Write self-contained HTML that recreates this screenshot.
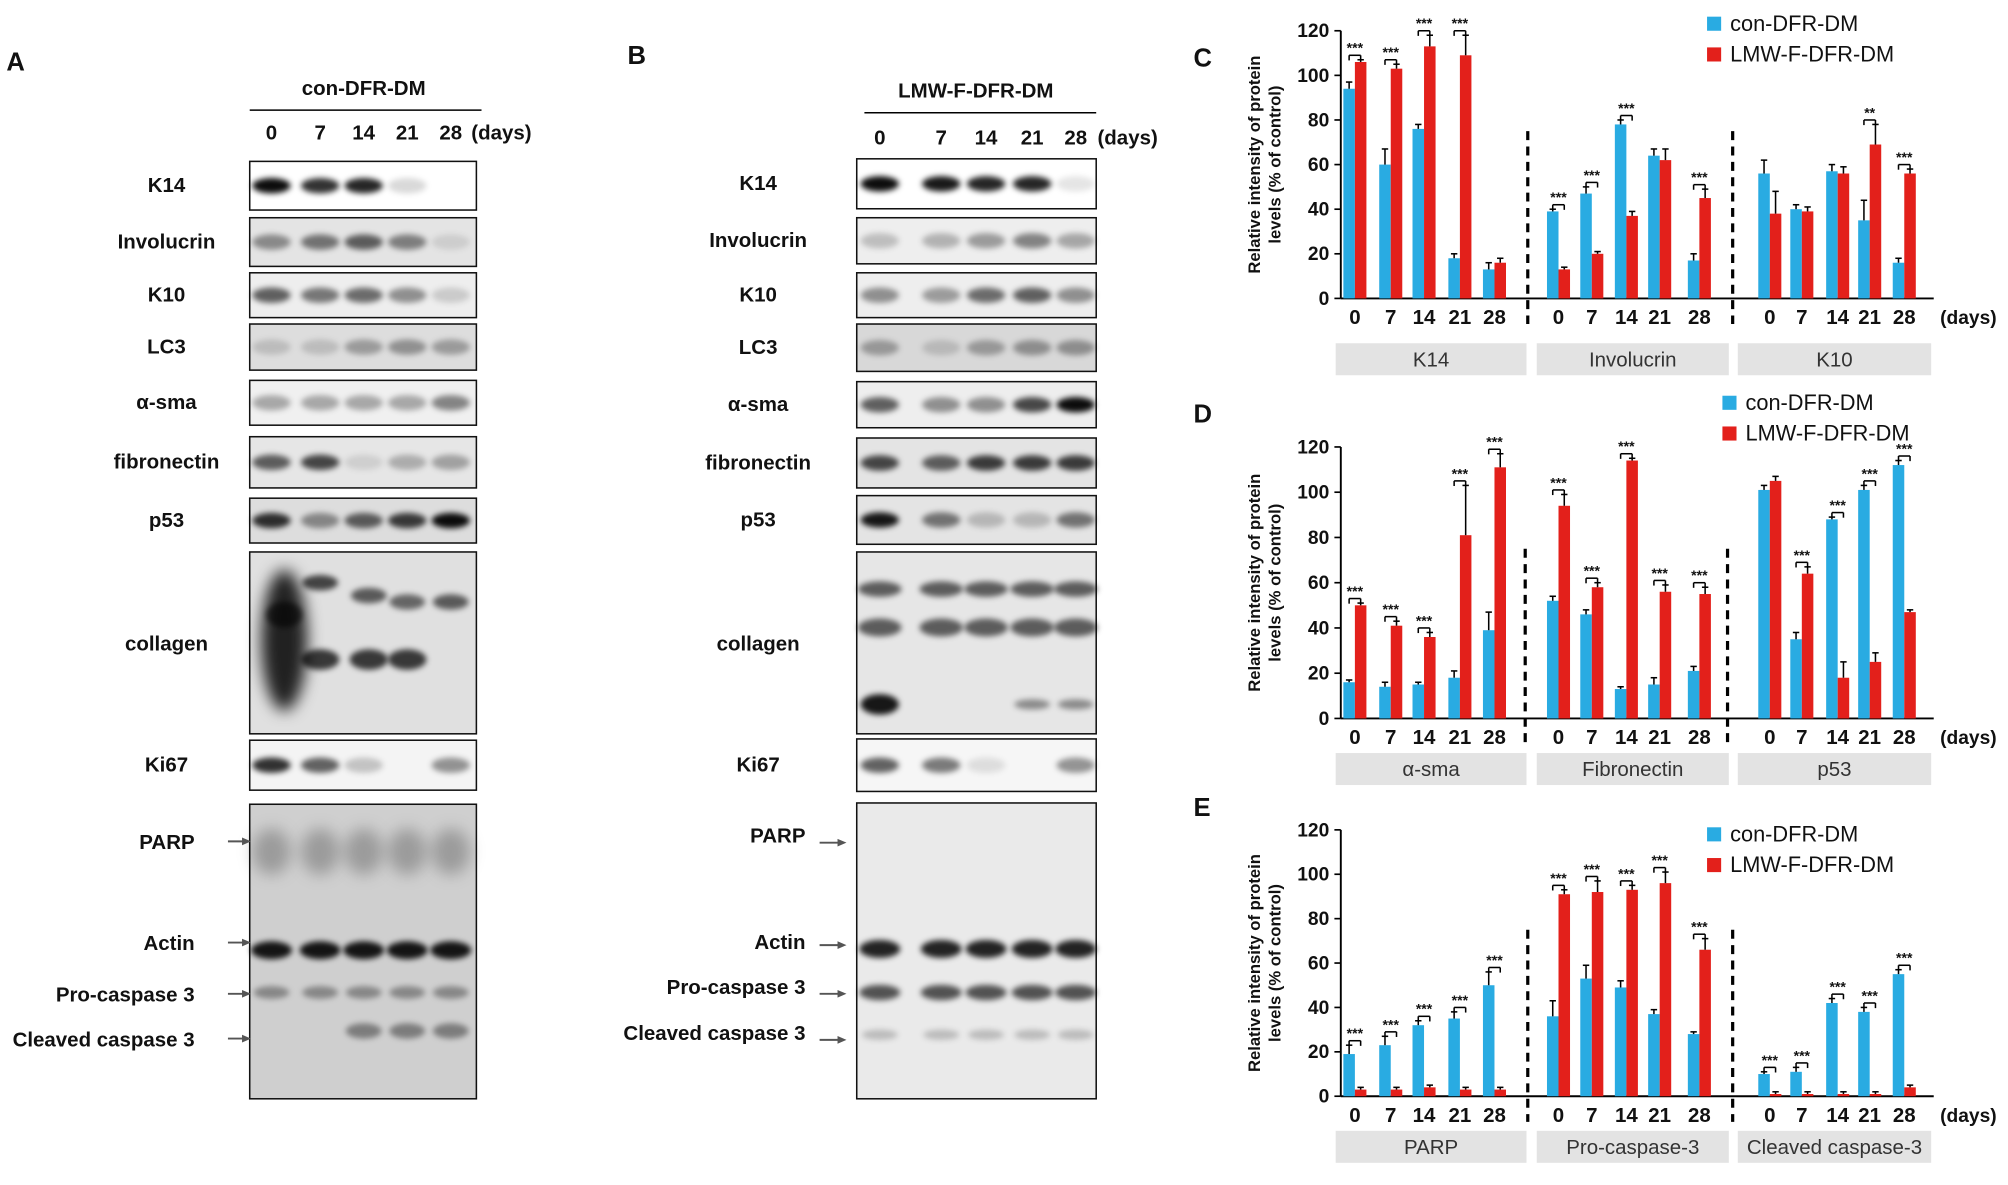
<!DOCTYPE html>
<html><head><meta charset="utf-8"><style>
html,body{margin:0;padding:0;background:#fff;}
svg{display:block;}
text{font-family:"Liberation Sans",Arial,sans-serif;}
</style></head><body>
<svg id="s" width="2008" height="1185" viewBox="0 0 1568 925.3" xmlns="http://www.w3.org/2000/svg">
<defs>
<filter id="bl" x="-50%" y="-50%" width="200%" height="200%"><feGaussianBlur stdDeviation="2.2"/></filter>
<filter id="bl2" x="-50%" y="-50%" width="200%" height="200%"><feGaussianBlur stdDeviation="6"/></filter>
</defs>
<g id="g"></g>
</svg>
<script>
var g=document.getElementById('g'),h='';
function T(x,y,t,o){o=o||{};h+='<text x="'+x+'" y="'+y+'" font-size="'+(o.s||16)+'" font-weight="'+(o.w||'bold')+'" text-anchor="'+(o.a||'start')+'" fill="'+(o.c||'#111')+'"'+(o.tr?' transform="'+o.tr+'"':'')+'>'+t+'</text>';}
function R(x,y,w,hh,f,st){h+='<rect x="'+x+'" y="'+y+'" width="'+w+'" height="'+hh+'" fill="'+f+'"'+(st?' stroke="'+st+'" stroke-width="1.2"':'')+'/>';}
function L(x1,y1,x2,y2,c,w,d){h+='<line x1="'+x1+'" y1="'+y1+'" x2="'+x2+'" y2="'+y2+'" stroke="'+(c||'#000')+'" stroke-width="'+(w||1.2)+'"'+(d?' stroke-dasharray="'+d+'"':'')+'/>';}
function E(cx,cy,rx,ry,op,f){h+='<ellipse cx="'+cx+'" cy="'+cy+'" rx="'+rx+'" ry="'+ry+'" fill="#000" fill-opacity="'+op+'" filter="url(#'+(f||'bl')+')"/>';}
// Panel letters
T(5,55,'A',{s:20});T(490,50,'B',{s:20});T(932,52,'C',{s:20});T(932,330,'D',{s:20});T(932,637,'E',{s:20});
// Blot A
T(284,74,'con-DFR-DM',{s:16,a:'middle'});L(195,86,376,86);
var la=[212,250,284,318,352],lb=[687,735,770,806,840];
['0','7','14','21','28'].forEach(function(t,i){T(la[i],109,t,{a:'middle'});T(lb[i],113,t,{a:'middle'});});
T(368,109,'(days)');T(857,113,'(days)');
T(762,76,'LMW-F-DFR-DM',{s:16,a:'middle'});L(675,88,856,88);
var rowsA=[['K14',126,164,[.95,.8,.85,.15,0],'#fff'],['Involucrin',170,208,[.4,.5,.6,.45,.1],'#e4e4e4'],['K10',213,248,[.6,.5,.55,.4,.15],'#eee'],['LC3',253,289,[.15,.15,.3,.35,.3],'#ddd'],['α-sma',297,332,[.3,.3,.3,.3,.45],'#f0f0f0'],['fibronectin',341,381,[.6,.7,.1,.25,.3],'#e6e6e6'],['p53',389,424,[.8,.4,.6,.75,.95],'#ddd'],['collagen',431,573,null,'#e0e0e0'],['Ki67',578,617,[.8,.6,.2,0,.4],'#f4f4f4'],['',628,858,null,'#cfcfcf']];
var rowsB=[['K14',124,163,[.95,.9,.85,.85,.1],'#fff'],['Involucrin',170,206,[.2,.25,.35,.45,.3],'#eee'],['K10',213,248,[.4,.35,.55,.6,.4],'#eee'],['LC3',253,290,[.3,.15,.3,.35,.35],'#d8d8d8'],['α-sma',298,334,[.6,.4,.4,.7,.95],'#eee'],['fibronectin',342,381,[.7,.6,.75,.75,.75],'#e4e4e4'],['p53',387,425,[.9,.5,.2,.2,.5],'#e4e4e4'],['collagen',431,573,null,'#e6e6e6'],['Ki67',577,618,[.6,.5,.1,0,.4],'#f6f6f6'],['',627,858,null,'#eaeaea']];
function blot(rows,x0,x1,lanes,lx){rows.forEach(function(r){R(x0,r[1],x1-x0,r[2]-r[1],r[4],'#111');
 var cy=(r[1]+r[2])/2; if(r[0])T(lx,cy+(r[0]=='collagen'?6:5),r[0],{a:'middle'});
 if(r[3])r[3].forEach(function(o,i){if(o>0)E(lanes[i],cy,15,6,o);});});}
blot(rowsA,195,372,la,130);blot(rowsB,669,856,lb,592);
// collagen A
E(222,500,18,55,.85,'bl2');[[250,455,.7],[288,465,.6],[318,470,.55],[352,470,.6]].forEach(function(p){E(p[0],p[1],14,6,p[2]);});
[250,288,318].forEach(function(x){E(x,515,15,8,.75);});E(222,480,14,10,.6);
// collagen B
lb.forEach(function(x,i){E(x,460,17,6,.6);E(x,490,17,7,.6);});E(687,550,15,8,.9);E(806,550,14,4,.4);E(840,550,14,4,.4);
// big A
la.forEach(function(x,i){E(x,742,16,7,.9);E(x,775,14,5,.35);E(x,665,15,18,.25,'bl2');if(i>=2)E(x,805,14,6,.4);});
lb.forEach(function(x){E(x,741,16,7,.85);E(x,775,16,6,.65);E(x,808,14,4,.2);});
[['PARP',657],['Actin',736],['Pro-caspase 3',776],['Cleaved caspase 3',811]].forEach(function(p){
 T(152,p[1]+6,p[0],{a:'end'});L(178,p[1],192,p[1],'#555',1.5);h+='<polygon points="196,'+p[1]+' 189,'+(p[1]-3)+' 189,'+(p[1]+3)+'" fill="#555"/>';});
[['PARP',658],['Actin',738],['Pro-caspase 3',776],['Cleaved caspase 3',812]].forEach(function(p){
 T(629,p[1]+(p[0]=='Actin'?3:0),p[0],{a:'end'});L(640,p[1],657,p[1],'#555',1.5);h+='<polygon points="661,'+p[1]+' 654,'+(p[1]-3)+' 654,'+(p[1]+3)+'" fill="#555"/>';});
// charts
var B='#29abe2',Rd='#e3201b';
var xs=[[1058,1086,1112,1140,1167],[1217,1243,1270,1296,1327],[1382,1407,1435,1460,1487]];
function chart(y0,y120,data,labels,ly,leg,seps,star){
 var k=(y0-y120)/120;
 L(1047,y120,1047,y0,'#000',1.5);L(1047,y0,1510,y0,'#000',1.5);
 for(var v=0;v<=120;v+=20){var y=y0-v*k;L(1042,y,1047,y,'#000',1.3);T(1038,y+5,v,{a:'end',s:15});}
 T(984,(y0+y120)/2,'Relative intensity of protein',{s:13,a:'middle',tr:'rotate(-90 984 '+(y0+y120)/2+')'});
 T(1000,(y0+y120)/2,'levels (% of control)',{s:13,a:'middle',tr:'rotate(-90 1000 '+(y0+y120)/2+')'});
 seps.forEach(function(x){L(x,y0-75*k,x,y0+20,'#000',2.5,'7,5');});
 data.forEach(function(gr,gi){gr[0].forEach(function(b,i){var x=xs[gi][i],r=gr[1][i];
  R(x-9,y0-b*k,9,b*k,B);R(x,y0-r*k,9,r*k,Rd);
  var eb=gr[2]?gr[2][i]:3,er=gr[3]?gr[3][i]:3;
  L(x-4.5,y0-b*k,x-4.5,y0-(b+eb)*k);L(x-7,y0-(b+eb)*k,x-2,y0-(b+eb)*k);
  L(x+4.5,y0-r*k,x+4.5,y0-(r+er)*k);L(x+2,y0-(r+er)*k,x+7,y0-(r+er)*k);
  var s=star[gi][i];if(s){var top=y0-(Math.max(b+eb,r+er)+2)*k;L(x-4.5,top,x+4.5,top);L(x-4.5,top,x-4.5,top+4);L(x+4.5,top,x+4.5,top+4);T(x,top-2,s,{a:'middle',s:11});}
  T(x,y0+20,['0','7','14','21','28'][i],{a:'middle',s:16});});});
 T(1515,y0+20,'(days)',{s:15,w:'bold'});
 [[1043,1192],[1200,1350],[1357,1508]].forEach(function(p,i){R(p[0],ly,p[1]-p[0],25,'#e3e3e3');T((p[0]+p[1])/2,ly+18,labels[i],{a:'middle',s:16,w:'normal',c:'#333'});});
 R(leg[0],leg[1]-11,11,11,B);T(leg[0]+18,leg[1],'con-DFR-DM',{s:17,w:'normal'});
 R(leg[0],leg[1]+13,11,11,Rd);T(leg[0]+18,leg[1]+24,'LMW-F-DFR-DM',{s:17,w:'normal'});
}
var S3='***';
chart(233,24,[[[94,60,76,18,13],[106,103,113,109,16],[3,7,2,2,3],[1,2,5,9,2]],[[39,47,78,64,17],[13,20,37,62,45],[1,3,2,3,3],[1,1,2,5,4]],[[56,40,57,35,16],[38,39,56,69,56],[6,2,3,9,2],[10,2,3,9,2]]],
 ['K14','Involucrin','K10'],268,[1333,24],[1193,1353],[[S3,S3,S3,S3,''],[S3,S3,S3,'',S3],['','','','**',S3]]);
chart(561,349,[[[16,14,15,18,39],[50,41,36,81,111],[1,2,1,3,8],[1,2,2,22,6]],[[52,46,13,15,21],[94,58,114,56,55],[2,2,1,3,2],[5,2,1,3,3]],[[101,35,88,101,112],[105,64,18,25,47],[2,3,1,2,2],[2,3,7,4,1]]],
 ['α-sma','Fibronectin','p53'],588,[1345,320],[1191,1349],[[S3,S3,S3,S3,S3],[S3,S3,S3,S3,S3],['',S3,S3,S3,S3]]);
chart(856,648,[[[19,23,32,35,50],[3,3,4,3,3],[4,4,2,3,6],[1,1,1,1,1]],[[36,53,49,37,28],[91,92,93,96,66],[7,6,3,2,1],[2,5,2,5,5]],[[10,11,42,38,55],[1,1,1,1,4],[1,2,2,2,2],[1,1,1,1,1]]],
 ['PARP','Pro-caspase-3','Cleaved caspase-3'],883,[1333,657],[1193,1353],[[S3,S3,S3,S3,S3],[S3,S3,S3,S3,S3],[S3,S3,S3,S3,S3]]);
g.innerHTML=h;
</script>
</body></html>
